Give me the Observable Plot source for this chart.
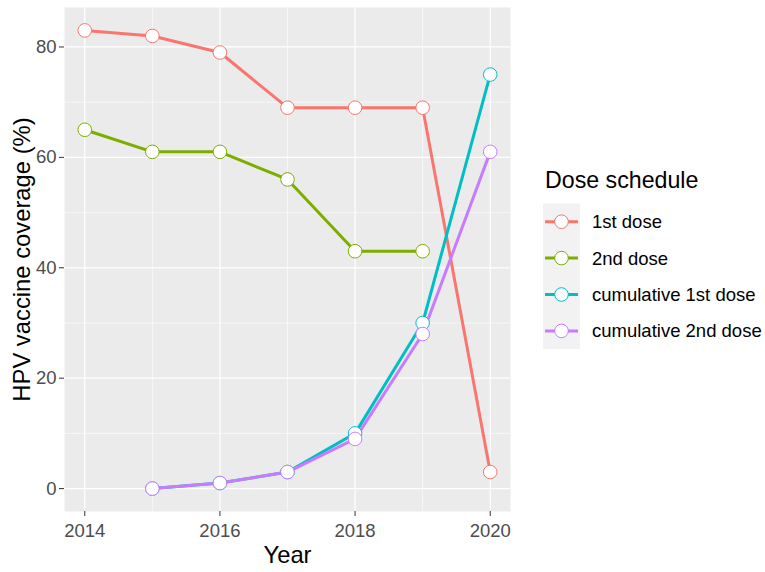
<!DOCTYPE html>
<html>
<head>
<meta charset="utf-8">
<script src="https://cdn.jsdelivr.net/npm/d3@7"></script>
<script src="https://cdn.jsdelivr.net/npm/@observablehq/plot@0.6"></script>
<style>
  html, body { margin: 0; padding: 0; background: white; }
  #wrap { position: relative; width: 765px; height: 572px; font-family: "Liberation Sans", Arial, sans-serif; }
  #legend { position: absolute; left: 530px; top: 160px; }
</style>
</head>
<body>
<div id="wrap"><div id="chart"></div><div id="legend"></div></div>
<script>
// ---- data ----
const seriesNames = ["1st dose", "2nd dose", "cumulative 1st dose", "cumulative 2nd dose"];
const seriesColors = ["#F8766D", "#7CAE00", "#00BFC4", "#C77CFF"];

const years1st = [2014, 2015, 2016, 2017, 2018, 2019, 2020];
const dose1st = [83, 82, 79, 69, 69, 69, 3];

const years2nd = [2014, 2015, 2016, 2017, 2018, 2019];
const dose2nd = [65, 61, 61, 56, 43, 43];

const yearsCum = [2015, 2016, 2017, 2018, 2019, 2020];
const cum1st = [0, 1, 3, 10, 30, 75];
const cum2nd = [0, 1, 3, 9, 28, 61];

const xTicks = [2014, 2016, 2018, 2020];
const xMinor = [2015, 2017, 2019];
const yTicks = [0, 20, 40, 60, 80];
const yMinor = [10, 30, 50, 70];

// ---- build table ----
const rows = [];
function add(name, ys, vs) { ys.forEach((y, i) => rows.push({series: name, year: y, value: vs[i]})); }
add(seriesNames[0], years1st, dose1st);
add(seriesNames[1], years2nd, dose2nd);
add(seriesNames[2], yearsCum, cum1st);
add(seriesNames[3], yearsCum, cum2nd);

const font = "'Liberation Sans', Arial, sans-serif";

const plot = Plot.plot({
  width: 765,
  height: 572,
  marginLeft: 64,
  marginRight: 255,
  marginTop: 7,
  marginBottom: 61,
  style: {fontFamily: font, background: "white"},
  x: {domain: [2013.7, 2020.3]},
  y: {domain: [-4.15, 87.15]},
  color: {domain: seriesNames, range: seriesColors},
  marks: [
    Plot.frame({fill: "#EBEBEB", stroke: null}),
    Plot.gridX(xMinor, {stroke: "white", strokeOpacity: 1, strokeWidth: 0.6}),
    Plot.gridY(yMinor, {stroke: "white", strokeOpacity: 1, strokeWidth: 0.6}),
    Plot.gridX(xTicks, {stroke: "white", strokeOpacity: 1, strokeWidth: 1.2}),
    Plot.gridY(yTicks, {stroke: "white", strokeOpacity: 1, strokeWidth: 1.2}),
    Plot.axisX({ticks: xTicks, tickFormat: d => String(d), tickSize: 5, tickPadding: 7, fontSize: 18.5, stroke: "#333333", fill: "#4D4D4D", label: null}),
    Plot.axisY({ticks: yTicks, tickSize: 5, tickPadding: 3, fontSize: 18.5, stroke: "#333333", fill: "#4D4D4D", label: null}),
    Plot.line(rows, {x: "year", y: "value", z: "series", stroke: "series", strokeWidth: 3}),
    Plot.dot(rows, {x: "year", y: "value", stroke: "series", fill: "white", r: 6.8, strokeWidth: 1}),
    Plot.text(["Year"], {frameAnchor: "bottom", lineAnchor: "middle", dy: 44, fontSize: 23.8, fill: "black"}),
    Plot.text(["HPV vaccine coverage (%)"], {frameAnchor: "left", textAnchor: "middle", lineAnchor: "middle", rotate: -90, dx: -42, fontSize: 23.8, fill: "black"})
  ]
});
document.getElementById("chart").appendChild(plot);

// ---- legend ----
const lg = d3.select("#legend").append("svg")
  .attr("width", 235).attr("height", 200)
  .style("font-family", font);
// offsets relative to legend origin (530,160)
lg.append("text").attr("x", 15).attr("y", 28).attr("font-size", 23.2).attr("fill", "black").text("Dose schedule");
const keyH = 36.4, keyTop = 43.5, keyX = 13, keyW = 37;
lg.append("rect").attr("x", keyX).attr("y", keyTop).attr("width", keyW).attr("height", keyH * seriesNames.length).attr("fill", "#F2F2F2");
seriesNames.forEach((name, i) => {
  const cy = keyTop + keyH * i + keyH / 2;
  const g = lg.append("g");
  g.append("line").attr("x1", keyX + 2).attr("x2", keyX + keyW - 2).attr("y1", cy).attr("y2", cy)
    .attr("stroke", seriesColors[i]).attr("stroke-width", 3);
  g.append("circle").attr("cx", keyX + keyW / 2).attr("cy", cy).attr("r", 6.8)
    .attr("fill", "white").attr("stroke", seriesColors[i]).attr("stroke-width", 1);
  g.append("text").attr("x", 62).attr("y", cy + 6.5).attr("font-size", 18.5).attr("fill", "black").text(name);
});
</script>
</body>
</html>
